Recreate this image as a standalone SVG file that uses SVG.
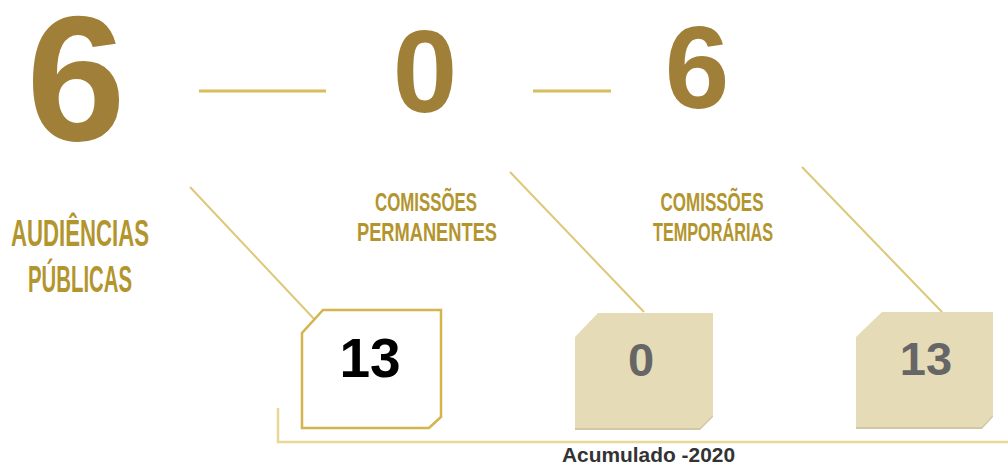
<svg xmlns="http://www.w3.org/2000/svg" width="1008" height="468" viewBox="0 0 1008 468">
<style>
.big{font-family:"Liberation Sans",Arial,sans-serif;font-weight:bold;fill:#a07f38;text-anchor:middle}
.lbl{font-family:"Liberation Sans Narrow","Liberation Sans",Arial,sans-serif;font-weight:bold;fill:#b3952e;text-anchor:middle}
.num{font-family:"Liberation Sans",Arial,sans-serif;font-weight:bold;text-anchor:middle}
.gline{stroke:#d6bd5e;stroke-width:3;fill:none;stroke-linecap:butt}
.dline{stroke:#dcc878;stroke-width:2;fill:none}
.beige{fill:#e5dbb6}
.shadow{fill:#d2c7a2}
</style>
<g id="totals">
<text class="big" x="76" y="140" font-size="178">6</text>
<text class="big" x="425" y="112" font-size="116">0</text>
<text class="big" x="697" y="108" font-size="116">6</text>
</g>
<g id="labels">
<text class="lbl" x="80" y="246" font-size="37" textLength="138" lengthAdjust="spacingAndGlyphs">AUDIÊNCIAS</text>
<text class="lbl" x="80" y="292" font-size="37" textLength="104" lengthAdjust="spacingAndGlyphs">PÚBLICAS</text>
<text class="lbl" x="426" y="211" font-size="26" textLength="102" lengthAdjust="spacingAndGlyphs">COMISSÕES</text>
<text class="lbl" x="427" y="241" font-size="26" textLength="140" lengthAdjust="spacingAndGlyphs">PERMANENTES</text>
<text class="lbl" x="712" y="211" font-size="26" textLength="103" lengthAdjust="spacingAndGlyphs">COMISSÕES</text>
<text class="lbl" x="713" y="241" font-size="26" textLength="120" lengthAdjust="spacingAndGlyphs">TEMPORÁRIAS</text>
</g>
<g id="connectors">
<line class="gline" x1="199" y1="91" x2="326" y2="91"/>
<line class="gline" x1="533" y1="91" x2="611" y2="91"/>
<line class="dline" x1="190" y1="187" x2="316" y2="321"/>
<line class="dline" x1="510" y1="172" x2="644" y2="312"/>
<line class="dline" x1="802" y1="167" x2="942" y2="312"/>
<polyline points="278,408 278,442 1008,442" fill="none" stroke="#e8d797" stroke-width="2.5"/>
</g>
<g id="box1">
<path d="M323,310 L441,310 L441,417 L429,428 L302,428 L302,333 Z" fill="#fff" stroke="#d4b44c" stroke-width="2.5"/>
<text class="num" x="370" y="377" font-size="55" fill="#000">13</text>
</g>
<g id="box2">
<path d="M598,315 L713,315 L713,417 L700,430 L575,430 L575,339 Z" class="shadow"/>
<path d="M598,313 L713,313 L713,415 L700,428 L575,428 L575,337 Z" class="beige"/>
<text class="num" x="641" y="376" font-size="47" fill="#666">0</text>
</g>
<g id="box3">
<path d="M882,314 L993,314 L993,417 L982,429 L856,429 L856,339 Z" class="shadow"/>
<path d="M882,312 L993,312 L993,415 L982,427 L856,427 L856,337 Z" class="beige"/>
<text class="num" x="926" y="375" font-size="47" fill="#666">13</text>
</g>
<g id="footer">
<text x="562" y="462" font-family="'Liberation Sans',Arial,sans-serif" font-weight="bold" font-size="19.5" fill="#333" textLength="173" lengthAdjust="spacingAndGlyphs">Acumulado -2020</text>
</g>
</svg>
